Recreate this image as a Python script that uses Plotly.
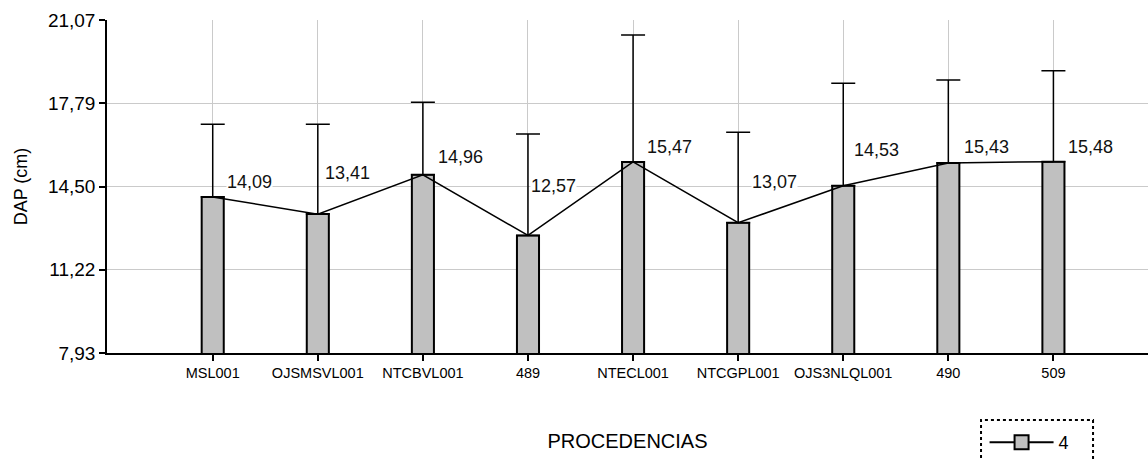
import plotly.graph_objects as go

# Procedencias y DAP medio (cm) con su desviación
procedencias = ["MSL001", "OJSMSVL001", "NTCBVL001", "489", "NTECL001",
                "NTCGPL001", "OJS3NLQL001", "490", "509"]
dap_medio = [14.09, 13.41, 14.96, 12.57, 15.47, 13.07, 14.53, 15.43, 15.48]
dap_error = [2.87, 3.55, 2.86, 4.00, 5.01, 3.57, 4.04, 3.27, 3.59]
y_ticks = [7.93, 11.22, 14.50, 17.79, 21.07]
serie = "4"

# desplazamiento (px) de cada etiqueta de valor respecto a la cima de su barra
etiqueta_dx = [13, 6, 14, 2, 13, 13, 10, 15, 14]
etiqueta_dy = [15, 41, 18, 49, 15, 41, 36, 16, 15]

FONT = "Liberation Sans, Arial, sans-serif"
GRIS = "#c0c0c0"

fig = go.Figure()

fig.add_trace(go.Bar(
    x=procedencias, y=dap_medio, width=0.21,
    marker=dict(color=GRIS, line=dict(color="black", width=2)),
    error_y=dict(type="data", array=dap_error, arrayminus=[0] * len(dap_error),
                 symmetric=False, color="black", thickness=1.5, width=12),
    base=0, showlegend=False, hoverinfo="x+y",
))

fig.add_trace(go.Scatter(
    x=procedencias, y=dap_medio, mode="lines",
    line=dict(color="black", width=1.5), showlegend=False, hoverinfo="skip",
))

# entrada de leyenda de la serie
fig.add_trace(go.Scatter(
    x=[None], y=[None], mode="lines+markers", name=serie,
    line=dict(color="black", width=2),
    marker=dict(symbol="square", size=14, color=GRIS,
                line=dict(color="black", width=2)),
))

# etiquetas de valor (posición por índice de categoría)
for i, (val, dx, dy) in enumerate(zip(dap_medio, etiqueta_dx, etiqueta_dy)):
    fig.add_annotation(
        x=i, y=val, xref="x", yref="y", text=f"{val:.2f}".replace(".", ","),
        showarrow=False, xanchor="left", yanchor="middle",
        xshift=dx, yshift=dy, bgcolor="white", borderpad=0,
        font=dict(family=FONT, size=18, color="#111"),
    )

# marco punteado de la leyenda
fig.add_shape(type="rect", xref="paper", yref="paper",
              x0=0.8396, x1=0.9472, y0=-0.36, y1=-0.2012,
              line=dict(color="black", width=2, dash="dot"), fillcolor="rgba(0,0,0,0)")

fig.update_layout(
    width=1148, height=461,
    margin=dict(l=107, r=0, t=20, b=108),
    paper_bgcolor="white", plot_bgcolor="white",
    separators=",.",
    font=dict(family=FONT, color="black"),
    showlegend=True,
    legend=dict(x=0.843, y=-0.215, xanchor="left", yanchor="top",
                font=dict(family=FONT, size=18, color="black"),
                itemwidth=64, bgcolor="rgba(0,0,0,0)", borderwidth=0),
    xaxis=dict(
        type="category",
        range=[-1.006, 8.9], showgrid=True, gridcolor="#cacaca", gridwidth=1,
        showline=True, linecolor="black", linewidth=1.5,
        ticks="outside", ticklen=6, tickcolor="black", tickwidth=1.5,
        tickfont=dict(family=FONT, size=14.5, color="black"),
        title=dict(text="PROCEDENCIAS", font=dict(family=FONT, size=20, color="black"),
                   standoff=54),
        zeroline=False,
    ),
    yaxis=dict(
        range=[7.93, 21.07], tickmode="array", tickvals=y_ticks,
        tickformat=".2f", showgrid=True, gridcolor="#cacaca", gridwidth=1,
        showline=True, linecolor="black", linewidth=1.5,
        ticks="outside", ticklen=6, tickcolor="black", tickwidth=1.5,
        tickfont=dict(family=FONT, size=19, color="black"),
        title=dict(text="DAP (cm)", font=dict(family=FONT, size=18, color="black"),
                   standoff=16),
        zeroline=False,
    ),
    bargap=0.8,
)

fig.write_html("out.html")
